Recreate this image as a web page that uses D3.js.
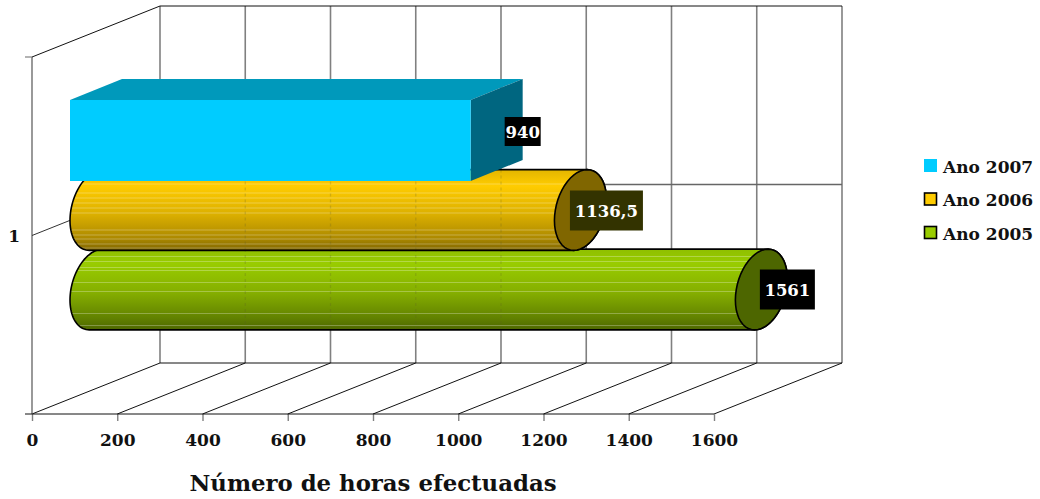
<!DOCTYPE html>
<html><head><meta charset="utf-8">
<script src="https://cdn.jsdelivr.net/npm/d3@7"></script>
<style>html,body{margin:0;background:#fff}svg{display:block}text{font-family:"DejaVu Serif",serif;font-weight:bold}</style>
</head><body><svg id="c" width="1040" height="499"></svg>
<script>
const years=["Ano 2005","Ano 2006","Ano 2007"];
const values=[1561,1136.5,940];
const valueLabels=["1561","1136,5","940"];
const xTicks=[0,200,400,600,800,1000,1200,1400,1600];
const categories=["1"];
const axisTitle="Número de horas efectuadas";
const legendOrder=["Ano 2007","Ano 2006","Ano 2005"];

const svg=d3.select("#c");
const x=d3.scaleLinear().domain([0,1600]).range([32,714]);
const yTop=57,yBot=414,dX=128,dY=-51;
const barStart=38, depX=52, depY=-21;
const seriesY=d3.scalePoint().domain(years).range([330,171]);
const fills={"Ano 2005":"#99cc00","Ano 2006":"#ffcc00","Ano 2007":"#00ccff"};
const caps={"Ano 2005":"#4d6600","Ano 2006":"#806600"};
const labelBg={"Ano 2005":"#000","Ano 2006":"#333300","Ano 2007":"#000"};
const labelH={"Ano 2005":40,"Ano 2006":40,"Ano 2007":29};
const labelW={"Ano 2005":55,"Ano 2006":73,"Ano 2007":36};
const stripes={"Ano 2005":[7,12,18,21,33,42,64,76],"Ano 2006":[14,23,28,33,38,43,60,65,69,74,78]};
const defs=svg.append("defs");
function grad(id,stops){
  const g=defs.append("linearGradient").attr("id",id).attr("x1",0).attr("x2",0).attr("y1",0).attr("y2",1);
  stops.forEach(s=>g.append("stop").attr("offset",s[0]).attr("stop-color",s[1]));
}
grad("g2005",[[0,"#8fbf00"],[.18,"#99cc00"],[.55,"#84ad00"],[.85,"#628200"],[1,"#4d6600"]]);
grad("g2006",[[0,"#e3b500"],[.2,"#ffcc00"],[.55,"#dcb000"],[.85,"#ac8900"],[1,"#806600"]]);

const gray="#808080";
const wall=svg.append("g").attr("fill","none");
function ln(g,a,b,c,d,col,w){g.append("line").attr("x1",a).attr("y1",b).attr("x2",c).attr("y2",d).attr("stroke",col).attr("stroke-width",w||1);}
xTicks.forEach(t=>{
  ln(wall,x(t)+dX,yTop+dY,x(t)+dX,yBot+dY,gray,1.6);
  ln(wall,x(t),yBot,x(t)+dX,yBot+dY,"#111",1);
});
ln(wall,x(0),yTop,x(0),yBot,gray,1.6);
ln(wall,x(0),yTop,x(0)+dX,yTop+dY,"#111",1);
ln(wall,x(0)+dX,yTop+dY,x(1600)+dX,yTop+dY,"#111",1);
ln(wall,x(0)+dX,yBot+dY,x(1600)+dX,yBot+dY,"#111",1);
const yMid=(yTop+yBot)/2;
ln(wall,x(0),yMid,x(0)+dX,yMid+dY,"#333",1);
ln(wall,x(0)+dX,yMid+dY,x(1600)+dX,yMid+dY,"#666",1.3);

const axB=svg.append("g").attr("transform",`translate(0,${yBot})`).call(d3.axisBottom(x).tickValues(xTicks).tickSize(7).tickPadding(8).tickFormat(d3.format("d")));
axB.select(".domain").remove();
axB.selectAll("line").attr("stroke",gray).attr("stroke-width",1.4);
axB.selectAll("text").attr("fill","#111").style("font-size","17px").attr("dy","17");
ln(svg,25,yBot,x(1600),yBot,"#111",1);
ln(svg,25,yTop,32,yTop,gray,1.2);
svg.append("text").attr("x",20).attr("y",yMid+6).attr("text-anchor","end").attr("fill","#111").style("font-size","17px").text(categories[0]);

const H=81;
function cylPts(cx,cy,from,to){
  const ux=depX/2,uy=depY/2,vy=39,n=48;
  return d3.range(n+1).map(i=>{const t=from+(to-from)*i/n;return [cx+Math.cos(t)*ux,cy+Math.cos(t)*uy+Math.sin(t)*vy];});
}
const line=d3.line();
years.forEach((yr,i)=>{
  const x0=x(0)+barStart, x1=x(values[i])+barStart, b=seriesY(yr);
  if(yr==="Ano 2007"){
    const bb=b+10, t=bb-H;
    const f=svg.append("g");
    f.append("polygon").attr("points",[[x0,t],[x0+depX,t+depY],[x1+depX,t+depY],[x1,t]].join(" ")).attr("fill","#0099bb");
    f.append("polygon").attr("points",[[x1,t],[x1+depX,t+depY],[x1+depX,bb+depY],[x1,bb]].join(" ")).attr("fill","#006680");
    f.append("rect").attr("x",x0).attr("y",t).attr("width",x1-x0).attr("height",H).attr("fill",fills[yr]);
    return;
  }
  const cy=b-H/2, cL=x0+depX/2, cR=x1+depX/2;
  const tA=Math.atan2(-39,10.5);
  const left=cylPts(cL,cy,tA,tA-Math.PI);
  const right=cylPts(cR,cy,tA-Math.PI,tA-2*Math.PI);
  const body=line(left.concat(right))+"Z";
  const id="cl"+i;
  defs.append("clipPath").attr("id",id).append("path").attr("d",body);
  const g=svg.append("g");
  g.append("path").attr("d",body).attr("fill",`url(#g${yr.slice(-4)})`);
  const s=g.append("g").attr("clip-path",`url(#${id})`);
  stripes[yr].forEach(o=>ln(s,x0-5,b-H+o+.5,x1+depX,b-H+o+.5,"rgba(255,255,255,.28)",1));
  xTicks.slice(1,5).forEach(t=>s.append("line").attr("x1",x(t)+dX).attr("x2",x(t)+dX).attr("y1",b-H).attr("y2",b).attr("stroke","rgba(90,90,40,.22)").attr("stroke-width",1.3).attr("stroke-dasharray","3 3"));
  g.append("path").attr("d",body).attr("fill","none").attr("stroke","#000").attr("stroke-width",1.6);
  g.append("path").attr("d",line(cylPts(cR,cy,0,2*Math.PI))+"Z").attr("fill",caps[yr]).attr("stroke","#000").attr("stroke-width",1.6);
});
years.forEach((yr,i)=>{
  const cx=x(values[i])+barStart+depX, cy=seriesY(yr)-H/2+(yr==="Ano 2007"?1:0)+(yr==="Ano 2006"?0.5:0);
  svg.append("rect").attr("x",cx-labelW[yr]/2).attr("y",cy-labelH[yr]/2).attr("width",labelW[yr]).attr("height",labelH[yr]).attr("fill",labelBg[yr]);
  svg.append("text").attr("x",cx).attr("y",cy+6).attr("text-anchor","middle").attr("fill","#fff").style("font-size","16.5px").text(valueLabels[i]);
});
svg.append("text").attr("x",373).attr("y",491).attr("text-anchor","middle").attr("fill","#111").style("font-size","22.8px").text(axisTitle);
const ly=d3.scalePoint().domain(legendOrder).range([159,226]);
legendOrder.forEach(n=>{
  const l=svg.append("g");
  const boxed=n!=="Ano 2007";
  l.append("rect").attr("x",boxed?924.5:924).attr("y",ly(n)+(boxed?.5:0)).attr("width",boxed?12:13).attr("height",boxed?12:13).attr("fill",fills[n]).attr("stroke",boxed?"#000":"none").attr("stroke-width",1.6);
  l.append("text").attr("x",943).attr("y",ly(n)+13.5).attr("fill","#111").style("font-size","17px").text(n);
});
</script></body></html>
